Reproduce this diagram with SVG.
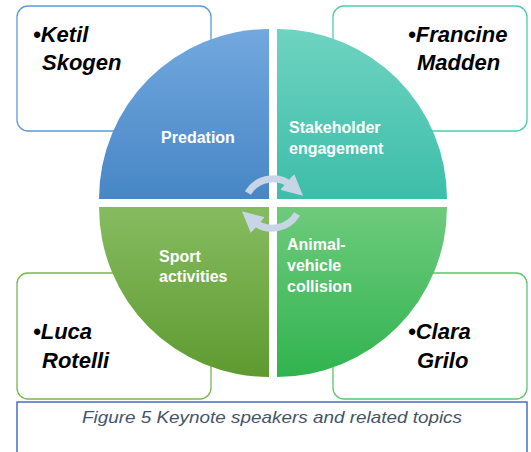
<svg xmlns="http://www.w3.org/2000/svg" width="531" height="452" viewBox="0 0 531 452">
<defs>
<linearGradient id="gBlue" x1="0" y1="0" x2="0" y2="1"><stop offset="0" stop-color="#72a8de"/><stop offset="1" stop-color="#4786c6"/></linearGradient>
<linearGradient id="gTeal" x1="0" y1="0" x2="0" y2="1"><stop offset="0" stop-color="#6fd3c1"/><stop offset="1" stop-color="#3cbea9"/></linearGradient>
<linearGradient id="gGreen1" x1="0" y1="0" x2="0" y2="1"><stop offset="0" stop-color="#86bc60"/><stop offset="1" stop-color="#5e9a30"/></linearGradient>
<linearGradient id="gGreen2" x1="0" y1="0" x2="0" y2="1"><stop offset="0" stop-color="#6ecb7c"/><stop offset="1" stop-color="#30b34f"/></linearGradient>
<marker id="ah" viewBox="0 0 10 10" refX="3" refY="5" markerWidth="3" markerHeight="3" orient="auto" markerUnits="strokeWidth">
<path d="M0,0 L10,5 L0,10 Z" fill="#c8d5e6"/>
</marker>
<style>
.box{fill:#ffffff;stroke-width:1.3}
.name{font-family:"Liberation Sans",Arial,sans-serif;font-weight:bold;font-style:italic;font-size:22px;fill:#000000}
.lbl{font-family:"Liberation Sans",Arial,sans-serif;font-weight:bold;font-size:16px;fill:#ffffff}
.arc{fill:none;stroke:#c8d5e6;stroke-width:7}
.cap{font-family:"Liberation Sans",Arial,sans-serif;font-style:italic;font-size:17px;fill:#44546a}
</style>
</defs>
<rect x="0" y="0" width="531" height="452" fill="#ffffff"/>
<g id="box-ketil"><rect class="box" x="17" y="6" width="194" height="125" rx="11" stroke="#5b9bd5"/>
<text class="name" x="33" y="42">•Ketil</text><text class="name" x="42" y="70">Skogen</text></g>
<g id="box-francine"><rect class="box" x="333" y="6" width="194" height="125" rx="11" stroke="#4fcbb4"/>
<text class="name" x="408" y="42">•Francine</text><text class="name" x="417" y="70">Madden</text></g>
<g id="box-luca"><rect class="box" x="17" y="273" width="194" height="126" rx="11" stroke="#7ab552"/>
<text class="name" x="33" y="339">•Luca</text><text class="name" x="42" y="368">Rotelli</text></g>
<g id="box-clara"><rect class="box" x="333" y="273" width="194" height="126" rx="11" stroke="#5cc66e"/>
<text class="name" x="408" y="339">•Clara</text><text class="name" x="417" y="368">Grilo</text></g>
<g id="q-predation"><path d="M269,199 L99,199 A170,170 0 0 1 269,29 Z" fill="url(#gBlue)"/>
<text class="lbl" x="198" y="143" text-anchor="middle">Predation</text></g>
<g id="q-stakeholder"><path d="M277,199 L277,29 A170,170 0 0 1 447,199 Z" fill="url(#gTeal)"/>
<text class="lbl" x="289" y="133">Stakeholder</text><text class="lbl" x="289" y="154">engagement</text></g>
<g id="q-sport"><path d="M269,207 L269,377 A170,170 0 0 1 99,207 Z" fill="url(#gGreen1)"/>
<text class="lbl" x="159" y="262">Sport</text><text class="lbl" x="159" y="282">activities</text></g>
<g id="q-collision"><path d="M277,207 L447,207 A170,170 0 0 1 277,377 Z" fill="url(#gGreen2)"/>
<text class="lbl" x="287" y="250">Animal-</text><text class="lbl" x="287" y="271">vehicle</text><text class="lbl" x="287" y="292">collision</text></g>
<g id="connectors">
<path class="arc" d="M248,193 A29,29 0 0 1 292,186" marker-end="url(#ah)"/>
<path class="arc" d="M297,214 A29,29 0 0 1 253,221" marker-end="url(#ah)"/>
</g>
<g id="caption"><rect x="17" y="402" width="510" height="60" fill="#ffffff" stroke="#4472c4" stroke-width="1.5"/>
<text class="cap" x="272" y="423" text-anchor="middle" textLength="380" lengthAdjust="spacingAndGlyphs">Figure 5 Keynote speakers and related topics</text></g>
</svg>
